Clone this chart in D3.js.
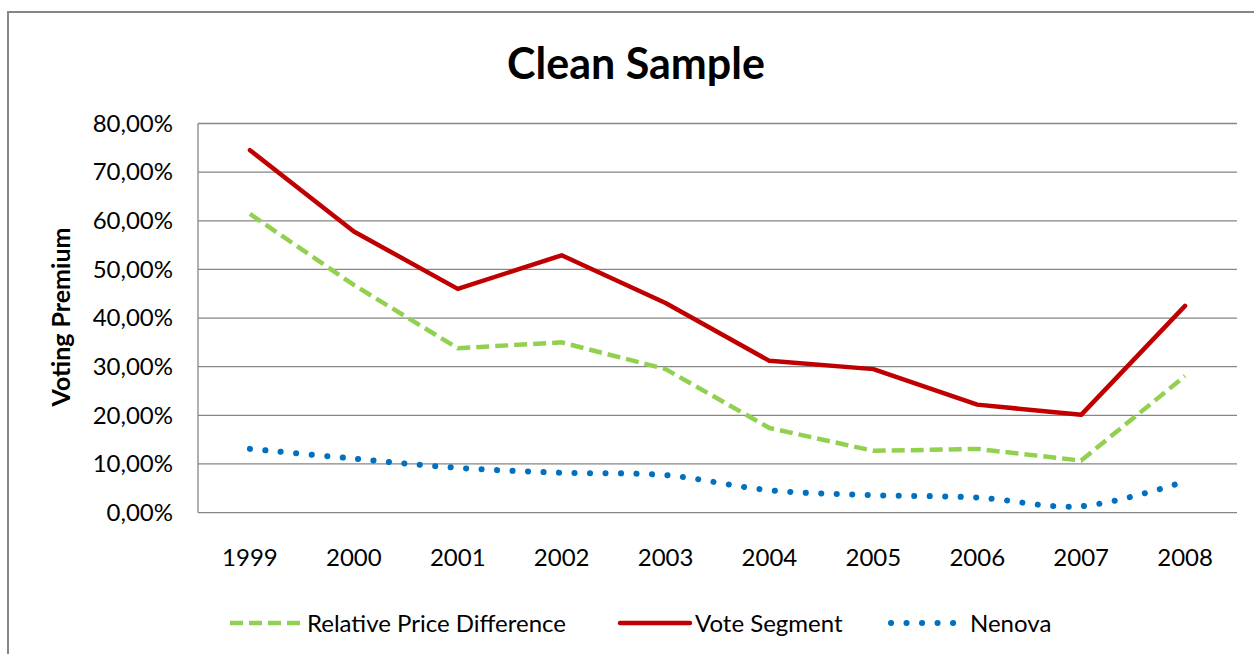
<!DOCTYPE html>
<meta charset="utf-8">
<style>
body { margin: 0; background: #fff; }
svg { display: block; font-family: Lato, "Open Sans", sans-serif; }
.grid line { stroke: #868686; stroke-width: 1.3px; }
.axis .domain { display: none; }
.axis line { display: none; }
.axis text { font-family: Lato, "Open Sans", sans-serif; font-size: 24px; fill: #000; }
</style>
<body>
<script src="https://cdn.jsdelivr.net/npm/d3@7/dist/d3.min.js"></script>
<script>
var years = ['1999', '2000', '2001', '2002', '2003', '2004', '2005', '2006', '2007', '2008']
var relativePriceDiff = [0.614, 0.468, 0.338, 0.350, 0.295, 0.174, 0.127, 0.131, 0.107, 0.281]
var voteSegment = [0.745, 0.578, 0.460, 0.529, 0.431, 0.312, 0.295, 0.222, 0.201, 0.425]
var nenova = [0.131, 0.111, 0.092, 0.082, 0.077, 0.046, 0.036, 0.031, 0.013, 0.064]
var yTicks = [0, 0.1, 0.2, 0.3, 0.4, 0.5, 0.6, 0.7, 0.8]

var series = [
    { name: 'Relative Price Difference', values: relativePriceDiff, color: '#92D050',
      width: 4.5, dash: '13 6', cap: 'butt', curve: d3.curveLinear, legendX: 230, legendW: 72 },
    { name: 'Vote Segment', values: voteSegment, color: '#C00000',
      width: 4.5, dash: null, cap: 'round', curve: d3.curveLinear, legendX: 620, legendW: 70 },
    { name: 'Nenova', values: nenova, color: '#0070C0',
      width: 6, dash: '0.1 15.4', cap: 'round', curve: d3.curveCatmullRom, legendX: 888, legendW: 70 }
]

var W = 1254, H = 654
var plot = { left: 198, right: 1237, top: 123.5, bottom: 512.6 }

var svg = d3.select('body').append('svg')
    .attr('width', W)
    .attr('height', H)

// outer chart border
svg.append('rect')
    .attr('x', 8).attr('y', 12)
    .attr('width', W + 20).attr('height', H + 20)
    .attr('fill', 'none')
    .attr('stroke', '#868686')
    .attr('stroke-width', 2)

svg.append('text')
    .attr('x', 636).attr('y', 79)
    .attr('text-anchor', 'middle')
    .style('font-size', '43px')
    .style('font-weight', 700)
    .text('Clean Sample')

var x = d3.scaleBand()
    .domain(years)
    .range([plot.left, plot.right])

var y = d3.scaleLinear()
    .domain([0, 0.8])
    .range([plot.bottom, plot.top])

var pct = function (v) {
    return d3.format('.2f')(v * 100).replace('.', ',') + '%'
}

svg.append('g')
    .attr('class', 'grid')
    .selectAll('line')
    .data(yTicks)
    .enter().append('line')
    .attr('x1', plot.left).attr('x2', plot.right)
    .attr('y1', function (d) { return y(d) })
    .attr('y2', function (d) { return y(d) })

svg.append('line')
    .attr('x1', plot.left).attr('x2', plot.left)
    .attr('y1', plot.top).attr('y2', plot.bottom)
    .attr('stroke', '#868686')
    .attr('stroke-width', 1.3)

svg.append('g')
    .attr('class', 'y axis')
    .attr('transform', 'translate(' + (plot.left - 15) + ',0)')
    .call(d3.axisLeft(y).tickValues(yTicks).tickFormat(pct).tickSize(0).tickPadding(10))

svg.append('g')
    .attr('class', 'x axis')
    .attr('transform', 'translate(0,' + (plot.bottom + 28) + ')')
    .call(d3.axisBottom(x).tickSize(0).tickPadding(8))

svg.append('text')
    .attr('transform', 'translate(70,' + 317 + ') rotate(-90)')
    .attr('text-anchor', 'middle')
    .style('font-size', '25px')
    .style('font-weight', 700)
    .text('Voting Premium')

series.forEach(function (s) {
    var line = d3.line()
        .curve(s.curve)
        .x(function (d, i) { return x(years[i]) + x.bandwidth() / 2 })
        .y(function (d) { return y(d) })

    svg.append('path')
        .datum(s.values)
        .attr('fill', 'none')
        .attr('stroke', s.color)
        .attr('stroke-width', s.width)
        .attr('stroke-dasharray', s.dash)
        .attr('stroke-linecap', s.cap)
        .attr('stroke-linejoin', 'round')
        .attr('d', line)

    var g = svg.append('g')
        .attr('transform', 'translate(' + s.legendX + ',623)')
    g.append('line')
        .attr('x1', s.cap === 'round' && s.dash ? 3 : 0).attr('x2', s.legendW)
        .attr('stroke', s.color)
        .attr('stroke-width', s.width)
        .attr('stroke-dasharray', s.dash)
        .attr('stroke-linecap', s.cap)
    g.append('text')
        .attr('x', s.legendW + (s.dash && s.cap === 'round' ? 12 : 5))
        .attr('dy', '0.36em')
        .style('font-size', '24px')
        .text(s.name)
})
</script>
</body>
